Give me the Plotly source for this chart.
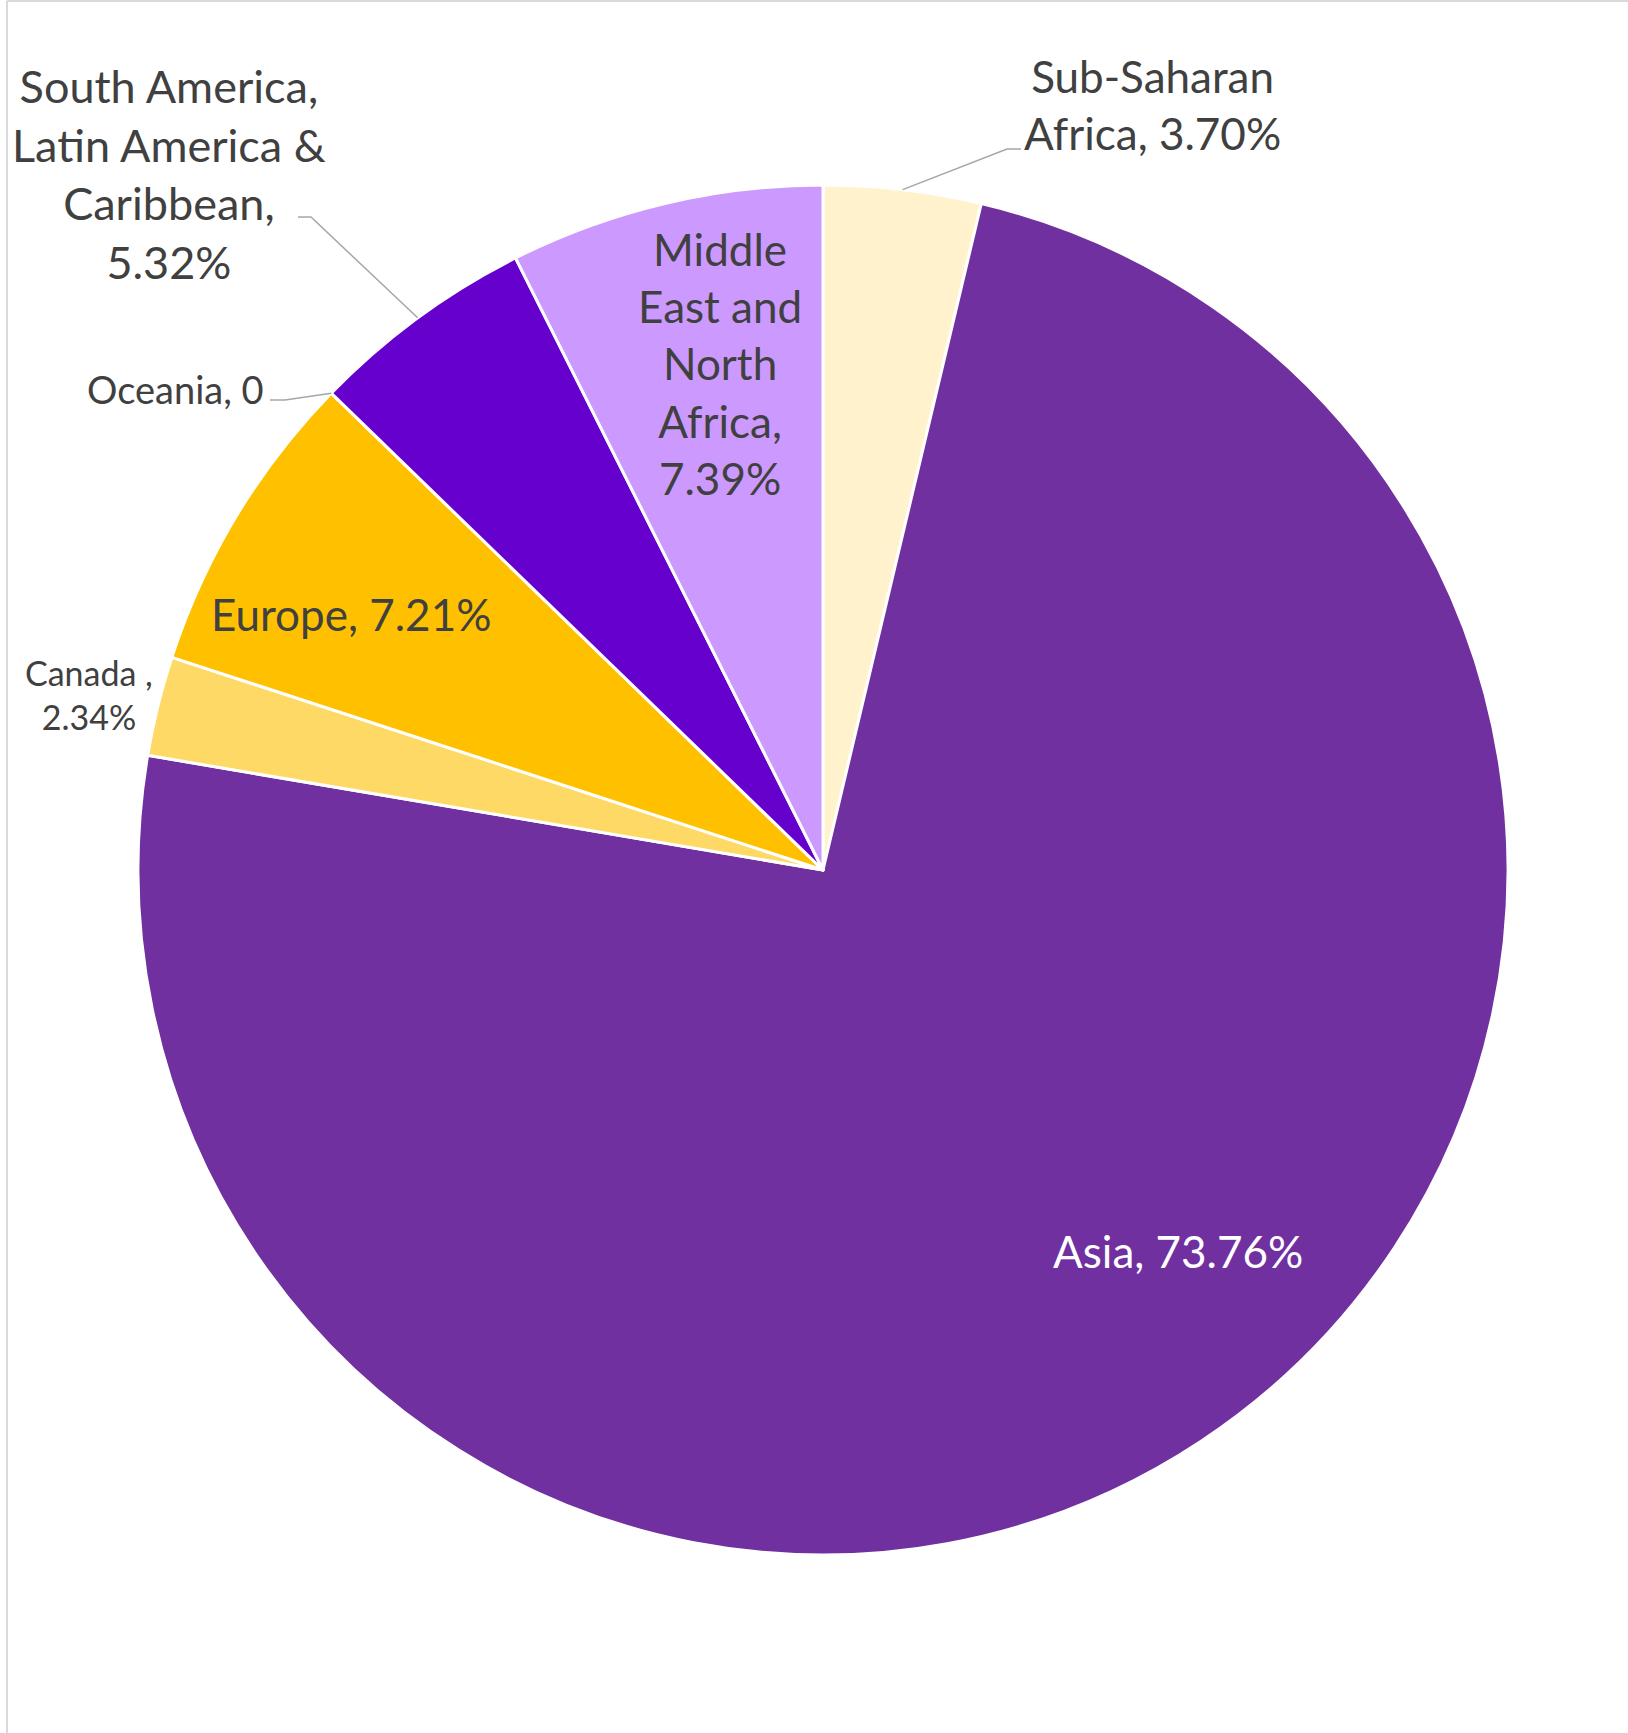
import math
import plotly.graph_objects as go

# ---- data ----
regions = ["Sub-Saharan Africa", "Asia", "Canada", "Europe", "Oceania",
           "South America, Latin America & Caribbean", "Middle East and North Africa"]
shares = [3.70, 73.76, 2.34, 7.21, 0.0, 5.32, 7.39]
label_texts = ["Sub-Saharan<br>Africa, 3.70%", "Asia, 73.76%", "Canada ,<br>2.34%",
               "Europe, 7.21%", "Oceania, 0",
               "South America,<br>Latin America &<br>Caribbean,<br>5.32%",
               "Middle<br>East and<br>North<br>Africa,<br>7.39%"]
colors = ["#FFF2CC", "#7030A0", "#FFD966", "#FFC000", "#A9A9A9", "#6600CC", "#CC99FF"]

W, H = 1628, 1733
CX, CY, R = 823, 870, 685  # pixel geometry of pie

def px(x):
    return x / W

def py(y):
    return 1 - y / H

fig = go.Figure(go.Pie(
    labels=regions, values=shares, sort=False, direction="clockwise", rotation=0,
    marker=dict(colors=colors, line=dict(color="white", width=3)),
    textinfo="none", hoverinfo="label+value", showlegend=False,
    domain=dict(x=[px(CX - R), px(CX + R)], y=[py(CY + R), py(CY - R)]),
))

# label placement (layout constants, pixels)
label_pos = {
    0: (1152, 104, 44, "#404040"),
    1: (1178, 1251, 44, "white"),
    2: (89, 695, 34, "#404040"),
    3: (351, 614, 44, "#404040"),
    4: (175, 389, 38, "#404040"),
    5: (169, 174, 45, "#404040"),
    6: (720, 363, 44, "#404040"),
}
annotations = []
for i, (x, y, s, c) in label_pos.items():
    annotations.append(dict(x=px(x), y=py(y), xref="paper", yref="paper",
                            text=label_texts[i], showarrow=False,
                            font=dict(family="Lato", size=s, color=c),
                            xanchor="center", yanchor="middle", align="center"))

# leader lines: end on pie edge at slice mid-angle (computed from data)
total = sum(shares)
cum = 0
mids = []
for v in shares:
    mids.append((cum + v / 2) / total * 2 * math.pi)
    cum += v

elbows = {0: [(1021, 149), (1007, 149)],
          4: [(270, 400), (285, 400)],
          5: [(298, 217), (311, 217)]}
shapes = []
for i, pts in elbows.items():
    a = mids[i]
    ex, ey = CX + R * math.sin(a), CY - R * math.cos(a)
    path_pts = pts + [(ex, ey)]
    d = "M " + " L ".join(f"{px(x)},{py(y)}" for x, y in path_pts)
    shapes.append(dict(type="path", path=d, xref="paper", yref="paper",
                       line=dict(color="#A6A6A6", width=1.5)))

# chart border (left and top edges visible)
shapes.append(dict(type="line", xref="paper", yref="paper", x0=px(7), x1=px(7),
                   y0=0, y1=py(1), line=dict(color="#D9D9D9", width=2)))
shapes.append(dict(type="line", xref="paper", yref="paper", x0=px(7), x1=1,
                   y0=py(1), y1=py(1), line=dict(color="#D9D9D9", width=2)))

fig.update_layout(width=W, height=H, margin=dict(l=0, r=0, t=0, b=0),
                  paper_bgcolor="white", plot_bgcolor="white",
                  annotations=annotations, shapes=shapes)

fig.write_html("out.html", config={"displayModeBar": False},
               post_script="document.body.style.margin='0';document.body.style.overflow='hidden';")
